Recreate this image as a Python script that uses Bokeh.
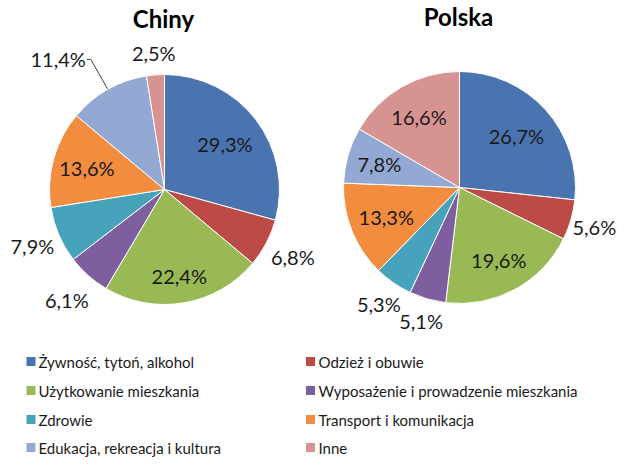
import math
from bokeh.plotting import figure
from bokeh.models import Range1d, ColumnDataSource
from bokeh.core.properties import value
from bokeh.embed import file_html
from bokeh.resources import INLINE

categories = [
    "Żywność, tytoń, alkohol",
    "Odzież i obuwie",
    "Użytkowanie mieszkania",
    "Wyposażenie i prowadzenie mieszkania",
    "Zdrowie",
    "Transport i komunikacja",
    "Edukacja, rekreacja i kultura",
    "Inne",
]
chiny = [29.3, 6.8, 22.4, 6.1, 7.9, 13.6, 11.4, 2.5]
polska = [26.7, 5.6, 19.6, 5.1, 5.3, 13.3, 7.8, 16.6]
titles = ["Chiny", "Polska"]

colors = ["#4A74B0", "#BC4A47", "#99B955", "#7D5E9F",
          "#47A2BB", "#F28C3E", "#93A8D3", "#D79391"]

FONT = "Lato"
W, H = 624, 460


def Y(img_y):
    return 476 - img_y


p = figure(width=W, height=H, output_backend="svg", toolbar_location=None,
           x_range=Range1d(0, W), y_range=Range1d(476 - H, 476),
           min_border=0)
p.axis.visible = False
p.grid.visible = False
p.outline_line_color = None
p.background_fill_color = "white"
p.border_fill_color = "white"

# layout
pies = [
    dict(vals=chiny, cx=164, cy=189, r=115, title_x=163, title_y=18,
         fac=[0.66, 1.26, 0.76, 1.28, 1.25, 0.70, None, 1.19]),
    dict(vals=polska, cx=459, cy=187, r=116, title_x=458, title_y=16,
         fac=[0.66, 1.21, 0.71, 1.20, 1.22, 0.68, 0.72, 0.70]),
]

for pie, title in zip(pies, titles):
    vals = pie["vals"]
    total = sum(vals)
    cx, cy, r = pie["cx"], Y(pie["cy"]), pie["r"]
    starts, ends, lx, ly, labs = [], [], [], [], []
    cum = 0.0
    for i, v in enumerate(vals):
        c0 = cum / total
        cum += v
        c1 = cum / total
        starts.append(math.pi / 2 - 2 * math.pi * c1)
        ends.append(math.pi / 2 - 2 * math.pi * c0)
        mid = math.pi / 2 - 2 * math.pi * (c0 + c1) / 2
        f = pie["fac"][i]
        lab = ("%.1f" % v).replace(".", ",") + "%"
        if f is None:
            # leader line label
            ex, ey = cx + r * math.cos(mid), cy + r * math.sin(mid)
            kx, ky = cx + 1.30 * r * math.cos(mid), cy + 1.30 * r * math.sin(mid)
            p.line([ex, kx, kx - 4], [ey, ky, ky], line_color="#404040", line_width=1)
            p.text(x=[kx - 5], y=[ky], text=[lab], text_font=value(FONT),
                   text_font_size="20px", text_align="right", text_baseline="middle",
                   text_color="#1a1a1a")
            continue
        lx.append(cx + f * r * math.cos(mid))
        ly.append(cy + f * r * math.sin(mid))
        labs.append(lab)
    src = ColumnDataSource(dict(s=starts, e=ends, c=colors))
    p.wedge(x=cx, y=cy, radius=r, start_angle="s", end_angle="e", fill_color="c",
            line_color="white", line_width=1, source=src)
    p.text(x=lx, y=ly, text=labs, text_font=value(FONT), text_font_size="20px",
           text_align="center", text_baseline="middle", text_color="#1a1a1a")
    p.text(x=[pie["title_x"]], y=[Y(pie["title_y"])], text=[title],
           text_font=value(FONT), text_font_size="24px", text_font_style="bold",
           text_align="center", text_baseline="middle", text_color="#000000")

# legend
col_sq_x = [30.5, 310]
col_tx_x = [38, 318]
row_y = [361, 390, 419, 447]
sx, sy, tx, ty = [], [], [], []
for i, cat in enumerate(categories):
    row, col = i // 2, i % 2
    sx.append(col_sq_x[col])
    sy.append(Y(row_y[row]))
    tx.append(col_tx_x[col])
    ty.append(Y(row_y[row]))
p.rect(x=sx, y=sy, width=9, height=9, fill_color=colors, line_color=None)
p.text(x=tx, y=ty, text=categories, text_font=value(FONT), text_font_size="15px",
       text_align="left", text_baseline="middle", text_color="#1a1a1a")

open("out.html", "w").write(file_html(p, INLINE))
